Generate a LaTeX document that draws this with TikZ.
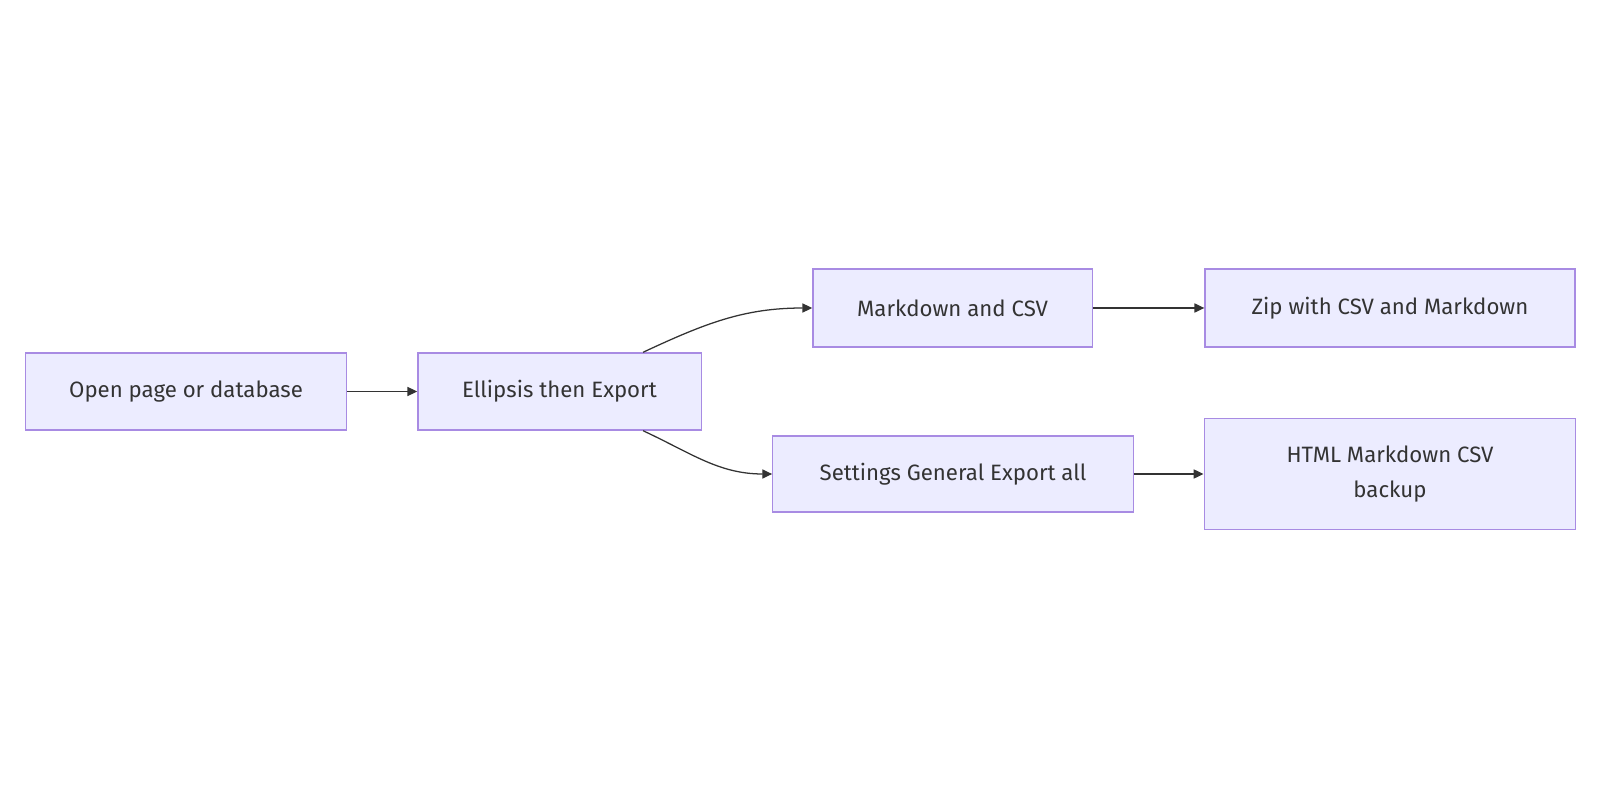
\documentclass[tikz,border=0pt]{standalone}
\usepackage{fontspec}
\setmainfont{Fira Sans}
\usepackage{tikz}
\usetikzlibrary{arrows.meta,positioning}
\definecolor{nodeFill}{HTML}{ECECFF}
\definecolor{nodeLine}{HTML}{A88BE3}
\definecolor{linkGray}{HTML}{333333}
\tikzset{box/.style={rectangle, draw=nodeLine, fill=nodeFill, line width=0.9pt,
  inner sep=0pt, minimum height=1.93cm, text=linkGray, align=center,
  font=\fontsize{15.8}{24.6}\selectfont}}
\tikzset{link/.style={draw, line width=0.9pt, linkGray,
  -{Triangle[length=7pt,width=6.5pt]}}}

\begin{document}
\begin{tikzpicture}[x=0.025cm, y=-0.025cm]
        \useasboundingbox (0,0) rectangle (1600,800);
        %% left column
        \node (open) at (186,391.5) [box, minimum width=8.03cm] {Open page or database};
        \node (ell) at (559.5,391.5) [box, minimum width=7.08cm] {Ellipsis then Export};
        %% upper branch
        \node (md) at (952.5,308) [box, minimum width=6.98cm, minimum height=1.95cm] {Markdown and CSV};
        \node (zip) at (1390,308) [box, minimum width=9.25cm, minimum height=1.95cm] {Zip with CSV and Markdown};
        %% lower branch
        \node (set) at (953,474) [box, minimum width=9.01cm, minimum height=1.9cm] {Settings General Export all};
        \node (html) at (1390,474) [box, minimum width=9.29cm, minimum height=2.79cm] {HTML Markdown CSV\\backup};
        \draw [link] (open) to (ell);
        \draw [link] ([xshift=2.09cm]ell.north) to[out=25,in=180] (md.west);
        \draw [link] ([xshift=2.09cm]ell.south) to[out=-25,in=180] (set.west);
        \draw [link] (md) to (zip);
        \draw [link] (set) to (html);
\end{tikzpicture}
\end{document}
